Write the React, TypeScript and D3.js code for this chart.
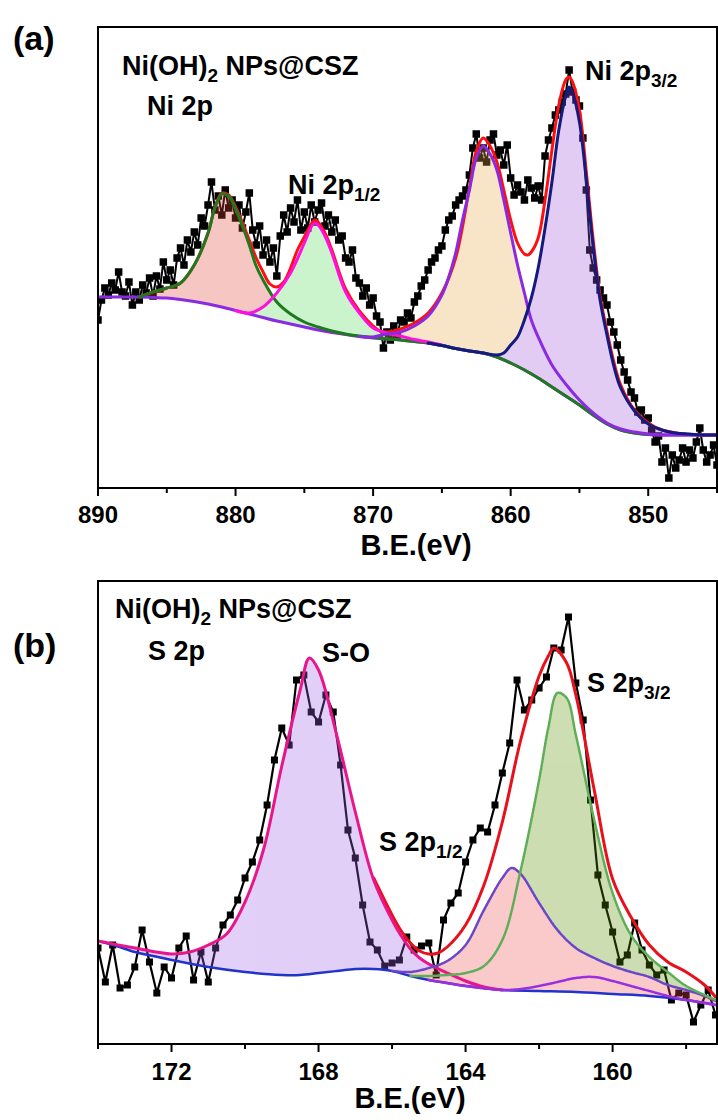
import React from "react";
import * as d3 from "d3";

type Pt = [number, number];

// ---------- Panel (a): Ni 2p ----------
const niStart = 890;
const niStep = 0.25;
const niCounts = [
  168, 188, 200, 193, 205, 198, 216, 196, 192, 206,
  183, 196, 188, 203, 195, 210, 192, 212, 199, 226,
  208, 218, 203, 230, 240, 223, 248, 236, 256, 243,
  270, 262, 283, 306, 278, 292, 273, 298, 280, 288,
  270, 283, 260, 276, 295, 258, 243, 262, 233, 248,
  226, 240, 212, 252, 273, 256, 280, 266, 288, 258,
  276, 260, 283, 266, 278, 285, 262, 273, 256, 268,
  248, 252, 230, 226, 238, 210, 205, 192, 200, 183,
  190, 172, 166, 140, 156, 148, 162, 152, 168, 166,
  175, 170, 186, 192, 202, 208, 218, 226, 230, 238,
  242, 258, 268, 272, 283, 288, 292, 298, 313, 340,
  354, 330, 340, 326, 348, 354, 333, 338, 323, 343,
  310, 293, 303, 296, 288, 308, 300, 290, 302, 288,
  332, 348, 360, 373, 378, 386, 394, 418, 396, 388,
  382, 350, 298, 238, 220, 208, 198, 190, 183, 166,
  156, 143, 128, 116, 108, 96, 90, 76, 78, 68,
  70, 58, 46, 52, 26, 40, 10, 33, 20, 28,
  40, 26, 38, 30, 46, 60, 38, 26, 33, 43,
  23,
];

const niBackground: Pt[] = [
  [890, 191], [889, 191], [888, 191], [887, 191], [886, 190.5], [885, 190], [884, 188.5],
  [883, 186.5], [882, 184], [881, 181], [880, 177.5], [879, 174], [878, 170.5], [877, 167],
  [876, 164], [875, 161], [874, 158], [873, 155.5], [872, 153.5], [871, 151.5], [870, 150],
  [869, 149], [868, 148], [867, 146.5], [866, 145], [865, 142.5], [864, 139.5], [863, 137],
  [862, 135], [861, 131], [860, 125], [859, 118], [858, 110], [857, 101], [856, 92],
  [855, 83], [854, 73], [853, 64], [852, 58], [851, 55], [850, 53.5], [849, 53], [848, 53],
  [847, 53], [846, 53], [845, 53],
];

const niSatellite: Pt[] = [
  [887, 191], [886, 196], [885, 200], [884, 205], [883, 223], [882, 255], [881.5, 280],
  [881, 294], [880.5, 292], [880, 279], [879.5, 262], [879, 243], [878.5, 222], [878, 208],
  [877, 186], [876, 174], [875, 166], [874, 161], [873, 157], [872, 154], [871, 152],
  [870, 150.5], [869, 149], [868, 148], [867, 146.5], [866, 145], [865, 142.5], [864, 139.5],
  [863, 137], [862, 135], [861, 131], [860, 125], [859, 118], [858, 110], [857, 101],
  [856, 92], [855, 83], [854, 73], [853, 64], [852, 58], [851, 55], [850, 53.5],
];

const niP12: Pt[] = [
  [880, 177.5], [879, 175], [878, 181], [877, 195], [876, 215], [875, 245], [874.5, 261],
  [874.25, 265], [874, 263], [873.5, 252], [873, 235], [872, 196], [871, 175], [870, 160],
  [869, 155], [868, 152], [867, 148.5], [866, 146], [865, 143],
];

const niSat32: Pt[] = [
  [871, 151.5], [870, 151], [869, 154], [868, 156], [867, 162], [866, 172], [865, 193],
  [864.5, 211], [864, 235], [863.5, 268], [863, 298], [862.5, 330], [862, 342], [861.5, 334],
  [861, 318], [860.5, 288], [860, 255], [859.5, 223], [859, 195], [858.5, 168], [858, 151],
  [857, 123], [856, 104], [855, 88], [854, 75], [853, 65], [852, 59], [851, 56], [850, 54],
  [849, 53], [848, 53], [847, 53], [846, 53], [845, 53],
];

const niP32: Pt[] = [
  [866, 145], [865, 142.5], [864, 139.5], [863, 137], [862, 135], [861, 133], [860.5, 135],
  [860, 143], [859.5, 151], [859, 168], [858.5, 190], [858, 220], [857.5, 260], [857, 306],
  [856.5, 358], [856, 392], [855.75, 401], [855.5, 395], [855, 366], [854.5, 308], [854, 241],
  [853.5, 188], [853, 153], [852.5, 122], [852, 100], [851, 77], [850, 64], [849, 58],
  [848, 55], [847, 54], [846, 53], [845, 53],
];

const niEnvelope: Pt[] = [
  [887, 191], [886, 196], [885, 200], [884, 205], [883, 223], [882, 255], [881.5, 281],
  [881, 295], [880.5, 293], [880, 281], [879, 248], [878.5, 230], [878, 216], [877.5, 204],
  [877, 201], [876.5, 206], [876, 220], [875.5, 238], [875, 251], [874.5, 264], [874.25, 268],
  [874, 266], [873.5, 255], [873, 238], [872, 199], [871, 177], [870, 162], [869.5, 157],
  [869, 156], [868.5, 157], [868, 159], [867, 165], [866, 175], [865, 195], [864, 230],
  [863, 300], [862.5, 337], [862, 350], [861.5, 342], [861, 326], [860.5, 298], [860, 268],
  [859.5, 245], [859, 234], [858.75, 233], [858.5, 236], [858, 250], [857.5, 288], [857, 338],
  [856.5, 383], [856, 408], [855.75, 411], [855.5, 406], [855, 378], [854.5, 316], [854, 248],
  [853.5, 192], [853, 157], [852.5, 126], [852, 103], [851, 78], [850, 65], [849, 58],
  [848, 55], [847, 53.5], [846, 53], [845, 53],
];

const niMajorTicks = [890, 880, 870, 860, 850];
const niMinorTicks = [885, 875, 865, 855, 845];

// ---------- Panel (b): S 2p ----------
const sStart = 174;
const sStep = 0.2;
const sCounts = [
  96, 62, 99, 56, 59, 77, 114, 82, 51, 77,
  66, 96, 108, 64, 92, 62, 96, 119, 129, 144,
  166, 182, 204, 239, 284, 316, 299, 364, 369, 332,
  322, 349, 332, 279, 214, 186, 139, 102, 94, 78,
  81, 84, 107, 94, 98, 101, 69, 124, 141, 151,
  182, 204, 216, 212, 239, 271, 301, 364, 334, 344,
  356, 367, 396, 394, 427, 361, 324, 244, 169, 139,
  112, 82, 89, 121, 94, 79, 69, 74, 44, 51,
  49, 22, 39, 54, 29,
];

const sBackground: Pt[] = [
  [174, 103], [173.5, 98], [173, 92], [172.5, 88], [172, 84], [171, 77], [170, 72],
  [169, 69], [168.5, 69], [168, 71], [167.5, 73], [167, 75], [166.5, 75], [166, 73],
  [165.5, 68], [165, 64], [164.5, 61], [164, 58], [163.5, 56], [163, 54], [162, 53],
  [161, 52], [160, 50], [159, 48], [158, 44], [157.2, 39],
];

const sSO: Pt[] = [
  [174, 103], [173, 96], [172, 90], [171.5, 92], [171, 99], [170.5, 110], [170, 142],
  [169.5, 194], [169, 278], [168.5, 354], [168.25, 386], [168, 374], [167.5, 308],
  [167, 232], [166.5, 164], [166, 124], [165.75, 108], [165.5, 95], [165.25, 86],
  [165, 80], [164.5, 71], [164, 63], [163.5, 57], [163, 54],
];

const sP32: Pt[] = [
  [165.5, 68], [165, 68], [164.5, 69], [164, 71], [163.5, 78], [163, 104], [162.5, 174],
  [162, 264], [161.75, 316], [161.5, 351], [161.25, 346], [161, 309], [160.5, 224],
  [160, 151], [159.5, 109], [159, 87], [158.5, 72], [158, 58], [157.5, 49], [157.2, 44],
];

const sP12: Pt[] = [
  [166, 73], [165.5, 72], [165, 76], [164.5, 83], [164, 99], [163.5, 134], [163, 166],
  [162.75, 176], [162.5, 170], [162, 141], [161.5, 114], [161, 96], [160.5, 86], [160, 78],
  [159.5, 72], [159, 67], [158.5, 59], [158, 54], [157.5, 48], [157.2, 43],
];

const sMinor: Pt[] = [
  [165, 64], [164, 58], [163, 54], [162.5, 55], [162, 58], [161.5, 62], [161, 66],
  [160.5, 67], [160, 63], [159.5, 58], [159, 53], [158.5, 48], [158, 44], [157.5, 41],
  [157.2, 39],
];

const sEnvelope: Pt[] = [
  [166.5, 166], [166, 129], [165.75, 113], [165.5, 101], [165.25, 93], [165, 90],
  [164.75, 91], [164.5, 97], [164, 119], [163.5, 159], [163, 222], [162.5, 304], [162, 368],
  [161.75, 388], [161.6, 396], [161.25, 381], [161, 349], [160.5, 254], [160, 165],
  [159.5, 127], [159, 99], [158.5, 82], [158, 72], [157.5, 59], [157.2, 47],
];

const sMajorTicks = [172, 168, 164, 160];
const sMinorTicks = [174, 170, 166, 162, 158];

// ---------- drawing ----------
interface Curve {
  pts: Pt[];
  stroke: string;
  width: number;
  fill?: string;
  dash?: string;
}

interface PanelProps {
  id: string;
  box: { l: number; t: number; r: number; b: number };
  xDomain: [number, number];
  yMax: number;
  eStart: number;
  eStep: number;
  counts: number[];
  dataWidth: number;
  marker: number;
  background: Curve;
  envelope: Curve;
  fills: Curve[];
  lines: Curve[];
  majorTicks: number[];
  minorTicks: number[];
  tickBaseline: number;
  titleX: number;
  titleBaseline: number;
  children?: React.ReactNode;
}

const FONT = "'Liberation Sans', Arial, Helvetica, sans-serif";

function Panel(p: PanelProps) {
  const x = d3.scaleLinear().domain(p.xDomain).range([p.box.l, p.box.r]);
  const y = d3.scaleLinear().domain([0, p.yMax]).range([p.box.b, p.box.t]);
  const curve = d3.curveCatmullRom.alpha(0.5);
  const line = d3
    .line<Pt>()
    .x((d) => x(d[0]))
    .y((d) => y(d[1]))
    .curve(curve);
  const bgScale = d3
    .scaleLinear()
    .domain(p.background.pts.map((d) => d[0]))
    .range(p.background.pts.map((d) => d[1]))
    .clamp(true);
  const area = d3
    .area<Pt>()
    .x((d) => x(d[0]))
    .y0((d) => y(bgScale(d[0])))
    .y1((d) => y(d[1]))
    .curve(curve);
  const dataPts: Pt[] = p.counts.map((c, i) => [p.eStart - i * p.eStep, c]);
  const dataLine = d3
    .line<Pt>()
    .x((d) => x(d[0]))
    .y((d) => y(d[1]));
  const clipId = `clip-${p.id}`;
  const sq = p.marker;

  const drawCurve = (c: Curve, k: string) => (
    <path
      key={k}
      d={line(c.pts) ?? ""}
      fill="none"
      stroke={c.stroke}
      strokeWidth={c.width}
      strokeDasharray={c.dash}
      strokeLinejoin="round"
      strokeLinecap="round"
    />
  );

  return (
    <g>
      <defs>
        <clipPath id={clipId}>
          <rect x={p.box.l} y={p.box.t} width={p.box.r - p.box.l} height={p.box.b - p.box.t} />
        </clipPath>
      </defs>
      <g clipPath={`url(#${clipId})`}>
        {/* measured spectrum */}
        <path d={dataLine(dataPts) ?? ""} fill="none" stroke="#000" strokeWidth={p.dataWidth} />
        {dataPts.map((d, i) => (
          <rect key={i} x={x(d[0]) - sq / 2} y={y(d[1]) - sq / 2} width={sq} height={sq} fill="#000" />
        ))}
        {/* fitted component areas, composited together as one translucent layer */}
        <g opacity={0.3}>
          {p.fills.map((c, i) => (
            <path key={`f${i}`} d={area(c.pts) ?? ""} fill={c.fill} stroke="none" />
          ))}
        </g>
        {drawCurve(p.envelope, "env")}
        {drawCurve(p.background, "bg")}
        {p.lines.map((c, i) => drawCurve(c, `l${i}`))}
      </g>
      {/* frame */}
      <rect
        x={p.box.l}
        y={p.box.t}
        width={p.box.r - p.box.l}
        height={p.box.b - p.box.t}
        fill="none"
        stroke="#000"
        strokeWidth={2}
      />
      {/* x axis ticks */}
      {p.majorTicks.map((t) => (
        <g key={`M${t}`}>
          <line x1={x(t)} x2={x(t)} y1={p.box.b} y2={p.box.b + 8} stroke="#000" strokeWidth={2} />
          <text
            x={x(t)}
            y={p.tickBaseline}
            textAnchor="middle"
            fontSize={24}
            fontWeight="bold"
            fontFamily={FONT}
          >
            {t}
          </text>
        </g>
      ))}
      {p.minorTicks.map((t) => (
        <line key={`m${t}`} x1={x(t)} x2={x(t)} y1={p.box.b} y2={p.box.b + 5} stroke="#000" strokeWidth={2} />
      ))}
      <text
        x={p.titleX}
        y={p.titleBaseline}
        textAnchor="middle"
        fontSize={29}
        fontWeight="bold"
        fontFamily={FONT}
      >
        B.E.(eV)
      </text>
      {p.children}
    </g>
  );
}

const labelStyle = { fontSize: 27, fontWeight: "bold" as const, fontFamily: FONT };

export default function App() {
  return (
    <svg
      width={718}
      height={1120}
      viewBox="0 0 718 1120"
      style={{ position: "absolute", left: 0, top: 0, background: "#fff" }}
    >
      <rect x={0} y={0} width={718} height={1120} fill="#fff" />

      <Panel
        id="ni"
        box={{ l: 98, t: 27, r: 717, b: 488 }}
        xDomain={[890, 845]}
        yMax={461}
        eStart={niStart}
        eStep={niStep}
        counts={niCounts}
        dataWidth={2}
        marker={7.5}
        background={{ pts: niBackground, stroke: "#8a2be2", width: 3 }}
        envelope={{ pts: niEnvelope, stroke: "#ff1010", width: 3 }}
        fills={[
          { pts: niSatellite, stroke: "", width: 0, fill: "#e44837" },
          { pts: niP12, stroke: "", width: 0, fill: "#58de58" },
          { pts: niSat32, stroke: "", width: 0, fill: "#eba848" },
          { pts: niP32, stroke: "", width: 0, fill: "#a558de" },
        ]}
        lines={[
          { pts: niSatellite, stroke: "#1f7a1f", width: 3 },
          { pts: niP12, stroke: "#ff10e0", width: 3 },
          { pts: niSat32, stroke: "#8a2be2", width: 3 },
          { pts: niP32, stroke: "#141a80", width: 3 },
        ]}
        majorTicks={niMajorTicks}
        minorTicks={niMinorTicks}
        tickBaseline={523}
        titleX={416}
        titleBaseline={555}
      >
        <text x={13} y={50} fontSize={34} fontWeight="bold" fontFamily={FONT}>
          (a)
        </text>
        <text x={122} y={75} {...labelStyle}>
          Ni(OH)
          <tspan fontSize={19} dy={7}>
            2
          </tspan>
          <tspan dy={-7}> NPs@CSZ</tspan>
        </text>
        <text x={147} y={115} {...labelStyle}>
          Ni 2p
        </text>
        <text x={288} y={194} {...labelStyle}>
          Ni 2p
          <tspan fontSize={19} dy={7}>
            1/2
          </tspan>
        </text>
        <text x={585} y={80} {...labelStyle}>
          Ni 2p
          <tspan fontSize={19} dy={7}>
            3/2
          </tspan>
        </text>
      </Panel>

      <Panel
        id="s"
        box={{ l: 98, t: 581, r: 717, b: 1044 }}
        xDomain={[174, 157.16]}
        yMax={463}
        eStart={sStart}
        eStep={sStep}
        counts={sCounts}
        dataWidth={2.2}
        marker={7}
        background={{ pts: sBackground, stroke: "#2233cc", width: 2.5 }}
        envelope={{ pts: sEnvelope, stroke: "#e8101c", width: 3 }}
        fills={[
          { pts: sSO, stroke: "", width: 0, fill: "#9e62e8" },
          { pts: sP32, stroke: "", width: 0, fill: "#589100" },
          { pts: sP12, stroke: "", width: 0, fill: "#f04e4e" },
        ]}
        lines={[
          { pts: sSO, stroke: "#e8168c", width: 3 },
          { pts: sMinor, stroke: "#9b2fe0", width: 2.5, dash: "2.5 1.2" },
          { pts: sP12, stroke: "#6a46c8", width: 2.5, dash: "2.5 1.2" },
          { pts: sP32, stroke: "#5fae57", width: 2.5, dash: "2.5 1.2" },
        ]}
        majorTicks={sMajorTicks}
        minorTicks={sMinorTicks}
        tickBaseline={1080}
        titleX={410}
        titleBaseline={1108}
      >
        <text x={13} y={657} fontSize={34} fontWeight="bold" fontFamily={FONT}>
          (b)
        </text>
        <text x={115} y={618} {...labelStyle}>
          Ni(OH)
          <tspan fontSize={19} dy={7}>
            2
          </tspan>
          <tspan dy={-7}> NPs@CSZ</tspan>
        </text>
        <text x={148} y={660} {...labelStyle}>
          S 2p
        </text>
        <text x={322} y={662} {...labelStyle}>
          S-O
        </text>
        <text x={379} y={851} {...labelStyle}>
          S 2p
          <tspan fontSize={19} dy={7}>
            1/2
          </tspan>
        </text>
        <text x={587} y={692} {...labelStyle}>
          S 2p
          <tspan fontSize={19} dy={7}>
            3/2
          </tspan>
        </text>
      </Panel>
    </svg>
  );
}
